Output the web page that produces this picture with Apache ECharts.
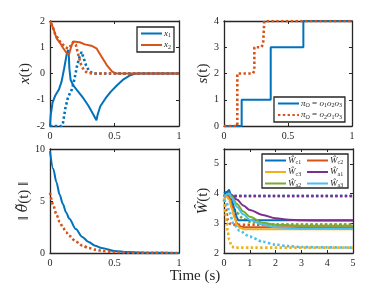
<!DOCTYPE html>
<html><head><meta charset="utf-8">
<script src="https://cdn.jsdelivr.net/npm/echarts@6/dist/echarts.min.js"></script>
<style>html,body{margin:0;padding:0;background:#fff}#c{width:390px;height:293px}</style>
</head><body><div id="c"></div>
<script>
// ---------- data: x(t) ----------
const tX1  = [0,0.005,0.02,0.04,0.07,0.09,0.11,0.13,0.14,0.145,0.15,0.16,0.18,0.22,0.26,0.3,0.34,0.36,0.37,0.39,0.43,0.47,0.52,0.57,0.62,0.66,0.7,1];
const vX1  = [-2,-1.6,-1.1,-0.85,-0.6,-0.3,0.2,0.75,0.9,0.8,0.2,-0.25,-0.45,-0.7,-0.95,-1.25,-1.6,-1.78,-1.55,-1.25,-0.95,-0.7,-0.45,-0.22,-0.07,-0.01,0,0];
const tX2  = [0,0.026,0.04,0.05,0.065,0.08,0.1,0.13,0.147,0.163,0.18,0.195,0.23,0.27,0.32,0.36,0.4,0.44,0.48,0.5,0.52,1];
const vX2  = [2,1.72,1.5,1.35,1.3,1.15,0.98,0.77,0.72,1.0,1.22,1.28,1.19,1.11,1.06,0.96,0.64,0.32,0.08,0.02,0,0];
const tX1d = [0,0.09,0.1,0.11,0.12,0.14,0.17,0.19,0.21,0.23,0.245,0.26,0.28,0.3,0.32,0.34,1];
const vX1d = [-2,-2,-1.9,-1.6,-1.3,-0.9,-0.6,-0.2,0.3,0.65,0.82,0.6,0.3,0.12,0.04,0,0];
const tX2d = [0,0.02,0.04,0.06,0.08,0.1,0.12,0.14,0.16,0.18,0.2,0.22,0.24,0.26,0.28,0.3,0.33,1];
const vX2d = [2,1.8,1.5,1.35,1.2,1.1,1.0,0.95,1.05,1.2,1.1,0.7,0.35,0.15,0.06,0.02,0,0];
// ---------- data: s(t) ----------
const tS1 = [0,0.138,0.138,0.365,0.365,0.62,0.62,1];
const vS1 = [0,0,1,1,3,3,4,4];
const tS2 = [0,0.104,0.104,0.225,0.237,0.237,0.29,0.305,0.315,0.315,1];
const vS2 = [0,0,2,2,2.1,3,3,3.1,3.1,4,4];
// ---------- data: ||theta(t)|| ----------
const tTh  = [0,0.025,0.05,0.075,0.1,0.125,0.15,0.2,0.25,0.3,0.35,0.4,0.5,0.6,0.7,0.8,1];
const vTh1 = [9.8,8.1,6.8,5.6,4.7,3.9,3.3,2.3,1.55,1.05,0.7,0.48,0.2,0.09,0.04,0.02,0];
const vTh2 = [5.8,4.6,3.7,3.0,2.45,2.0,1.65,1.1,0.72,0.48,0.32,0.21,0.09,0.04,0.02,0.01,0];
// ---------- data: W(t) ----------
const tC1 = [0,0.1,0.2,0.3,0.4,0.5,0.55,0.7,5];
const vC1 = [4.0,4.05,4.12,3.8,3.5,3.2,3.1,3.1,3.1];
const tC2 = [0,0.1,0.2,0.3,0.4,0.5,0.6,0.8,5];
const vC2 = [3.9,3.95,3.9,3.6,3.25,3.0,2.9,2.87,2.87];
const tC3 = [0,0.1,0.2,0.3,0.4,0.5,0.6,0.8,5];
const vC3 = [3.8,3.9,3.8,3.5,3.2,2.95,2.85,2.8,2.8];
const tA1 = [0,0.2,0.3,0.5,0.75,1,1.5,2,2.5,3,4,5];
const vA1 = [3.9,4.0,3.95,3.8,3.6,3.45,3.28,3.17,3.12,3.1,3.09,3.09];
const tA2 = [0,0.2,0.3,0.5,0.75,1,1.5,2,3,5];
const vA2 = [3.9,4.0,3.9,3.65,3.4,3.22,3.02,2.95,2.92,2.92];
const tA3 = [0,0.2,0.3,0.5,0.75,1,1.5,2,3,5];
const vA3 = [3.9,4.0,3.85,3.55,3.3,3.12,2.95,2.87,2.82,2.82];
const tC1d = [0,0.1,0.2,0.3,5];
const vC1d = [3.9,4.05,4.0,3.92,3.92];
const tA1d = [0,0.2,0.3,5];
const vA1d = [3.9,4.0,3.92,3.92];
const tC2d = [0,0.05,0.1,0.15,0.2,0.3,0.5,5];
const vC2d = [3.8,3.6,3.35,3.1,3.0,2.96,2.95,2.95];
const tC3d = [0,0.05,0.1,0.15,0.2,0.3,0.4,5];
const vC3d = [3.8,3.4,3.0,2.7,2.45,2.22,2.18,2.18];
const tA2d = [0,0.1,0.2,0.3,0.5,0.75,1,1.5,2,5];
const vA2d = [3.9,3.95,3.8,3.6,3.35,3.15,3.05,2.98,2.96,2.96];
const tA3d = [0,0.1,0.2,0.36,0.6,1,1.5,2,2.5,3,4,5];
const vA3d = [3.8,3.7,3.4,3.0,2.75,2.55,2.38,2.28,2.23,2.2,2.19,2.18];

const zip = (t, v) => t.map((x, i) => [x, v[i]]);
const FONT = 'Liberation Serif';
const INK = '#262626';
const BLUE = '#0072BD', ORANGE = '#D95319', YELLOW = '#EDB120', PURPLE = '#7E2F8E', GREEN = '#77AC30', LBLUE = '#4DBEEE';

const grids = [
  {left: 50, top: 21, width: 129, height: 105},
  {left: 224, top: 21, width: 128, height: 105},
  {left: 50, top: 149, width: 129, height: 104},
  {left: 224, top: 149, width: 129, height: 104}
];
const xr = [[0,1,0.5],[0,1,0.5],[0,1,0.5],[0,5,1]];
const yr = [[-2,2,1],[0,4,1],[0,10,5],[2,5.5,1]];

const rich = {
  i: {fontFamily: FONT, fontStyle: 'italic', fontSize: 15, color: INK},
  n: {fontFamily: FONT, fontSize: 15, color: INK},
  d: {fontFamily: 'DejaVu Serif', fontStyle: 'italic', fontSize: 14, color: INK}
};
const yNames = ['{i|x}{n|(t)}', '{i|s}{n|(t)}', '{n|‖ }{d|θ̃}{n|(t) ‖}', '{i|Ŵ}{n|(t)}'];

function axisBase(show) {
  return {
    type: 'value',
    axisLine: {show: true, onZero: false, lineStyle: {color: INK, width: 1.3}},
    axisTick: {show: true, inside: true, length: 3, lineStyle: {color: INK, width: 1}},
    axisLabel: {show: show, color: INK, fontFamily: FONT, fontSize: 10, margin: 5},
    splitLine: {show: false}
  };
}
const xAxis = [], yAxis = [];
for (let k = 0; k < 2; k++) {
  for (let g = 0; g < 4; g++) {
    const xa = axisBase(k === 0);
    xa.gridIndex = g; xa.min = xr[g][0]; xa.max = xr[g][1]; xa.interval = xr[g][2];
    xa.position = k === 0 ? 'bottom' : 'top';
    xAxis.push(xa);
    const ya = axisBase(k === 0);
    ya.gridIndex = g; ya.min = yr[g][0]; ya.max = yr[g][1]; ya.interval = yr[g][2];
    ya.position = k === 0 ? 'left' : 'right';
    ya.axisLabel.showMaxLabel = g === 3 ? false : true;
    if (k === 0) {
      ya.name = yNames[g];
      ya.nameLocation = 'middle';
      ya.nameGap = 13;
      ya.nameTextStyle = {rich: rich};
    }
    yAxis.push(ya);
  }
}

function line(name, g, data, color, dotted, extra) {
  const s = {
    name: name, type: 'line', xAxisIndex: g, yAxisIndex: g, data: data,
    symbol: 'none', showSymbol: false, animation: false,
    lineStyle: dotted ? {color: color, width: 2.6, type: [2.4, 2.4], cap: 'butt'} : {color: color, width: 2},
    itemStyle: {color: color}
  };
  return Object.assign(s, extra || {});
}
const sm = {smooth: 0.3, smoothMonotone: 'x'};

const series = [
  line('x1', 0, zip(tX1, vX1), BLUE, false),
  line('x2', 0, zip(tX2, vX2), ORANGE, false),
  line('x1d', 0, zip(tX1d, vX1d), BLUE, true),
  line('x2d', 0, zip(tX2d, vX2d), ORANGE, true),
  line('s1', 1, zip(tS1, vS1), BLUE, false),
  line('s2', 1, zip(tS2, vS2), ORANGE, true),
  line('th1', 2, zip(tTh, vTh1), BLUE, false, sm),
  line('th2', 2, zip(tTh, vTh2), ORANGE, true, sm),
  line('c1d', 3, zip(tC1d, vC1d), BLUE, true),
  line('c2d', 3, zip(tC2d, vC2d), ORANGE, true, sm),
  line('c3d', 3, zip(tC3d, vC3d), YELLOW, true, sm),
  line('a1d', 3, zip(tA1d, vA1d), PURPLE, true),
  line('a2d', 3, zip(tA2d, vA2d), GREEN, true, sm),
  line('a3d', 3, zip(tA3d, vA3d), LBLUE, true, sm),
  line('c1', 3, zip(tC1, vC1), BLUE, false, sm),
  line('c2', 3, zip(tC2, vC2), ORANGE, false, sm),
  line('c3', 3, zip(tC3, vC3), YELLOW, false, sm),
  line('a1', 3, zip(tA1, vA1), PURPLE, false, sm),
  line('a2', 3, zip(tA2, vA2), GREEN, false, sm),
  line('a3', 3, zip(tA3, vA3), LBLUE, false, sm)
];
series[11].lineStyle.dashOffset = 2.4;
series[3].lineStyle.dashOffset = 2.4;

const labels = {
  x1: '{i|x}{s|1}', x2: '{i|x}{s|2}',
  s1: '{i|π}{s|O}{n| = }{i|o}{s|1}{i|o}{s|2}{i|o}{s|3}',
  s2: '{i|π}{s|O}{n| = }{i|o}{s|2}{i|o}{s|1}{i|o}{s|3}',
  c1: '{i|Ŵ}{s|c1}', c2: '{i|Ŵ}{s|c2}', c3: '{i|Ŵ}{s|c3}',
  a1: '{i|Ŵ}{s|a1}', a2: '{i|Ŵ}{s|a2}', a3: '{i|Ŵ}{s|a3}'
};
const lrich = {
  i: {fontFamily: FONT, fontStyle: 'italic', fontSize: 9, color: INK, lineHeight: 10},
  n: {fontFamily: FONT, fontSize: 9, color: INK, lineHeight: 10},
  s: {fontFamily: FONT, fontSize: 6, color: INK, lineHeight: 6, verticalAlign: 'bottom'}
};
function legend(data, left, top, boxed) {
  return {
    data: data, orient: 'vertical', left: left, top: top,
    itemWidth: 21, itemHeight: 9, itemGap: 2, padding: boxed ? [2, 3, 2, 3] : 0,
    borderColor: INK, borderWidth: boxed ? 1.3 : 0, backgroundColor: boxed ? '#fff' : 'transparent',
    itemStyle: {opacity: 0, borderWidth: 0},
    formatter: n => labels[n], textStyle: {rich: lrich, padding: [0, 0, 0, -3]},
    selectedMode: false
  };
}

const option = {
  animation: false,
  grid: grids,
  xAxis: xAxis, yAxis: yAxis,
  series: series,
  legend: [
    legend(['x1', 'x2'], 137, 27, true),
    legend(['s1', 's2'], 274, 97, true),
    legend(['c1', 'c3', 'a2'], 264, 156, false),
    legend(['c2', 'a1', 'a3'], 306, 156, false)
  ],
  graphic: [
    {type: 'rect', z: 3, shape: {x: 262, y: 154, width: 86, height: 34},
     style: {fill: '#fff', stroke: INK, lineWidth: 1.3}},
    {type: 'text', left: 'center', top: 269, z: 5,
     style: {text: 'Time (s)', fontFamily: FONT, fontSize: 15, fill: INK}}
  ]
};
echarts.init(document.getElementById('c')).setOption(option);
</script></body></html>
